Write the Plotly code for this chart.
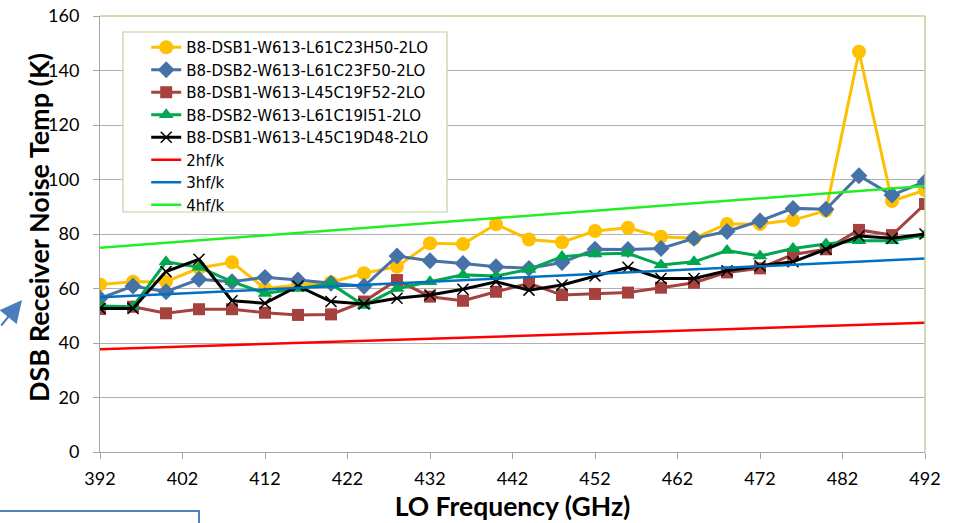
import plotly.graph_objects as go

freq = [392, 396, 400, 404, 408, 412, 416, 420, 424, 428, 432, 436, 440,
        444, 448, 452, 456, 460, 464, 468, 472, 476, 480, 484, 488, 492]

s_h50 = [61.5, 62.5, 62.5, 67.5, 69.6, 60.0, 61.3, 62.3, 65.6, 68.0, 76.6, 76.3, 83.6,
         78.0, 77.0, 81.1, 82.3, 79.0, 78.4, 83.7, 83.7, 85.1, 88.6, 146.9, 92.1, 96.1]
s_f50 = [56.4, 60.9, 58.8, 63.4, 62.5, 64.1, 63.1, 61.9, 60.8, 71.9, 70.2, 69.2, 68.0,
         67.4, 69.5, 74.4, 74.3, 74.7, 78.4, 80.9, 84.8, 89.4, 89.1, 101.4, 94.3, 99.2]
s_f52 = [52.5, 53.3, 50.9, 52.4, 52.4, 51.1, 50.3, 50.5, 55.2, 63.1, 57.0, 55.5, 58.8,
         61.9, 57.6, 58.0, 58.5, 60.3, 62.1, 65.9, 67.4, 72.5, 74.4, 81.5, 79.6, 91.0]
s_i51 = [53.6, 53.3, 69.8, 67.8, 62.5, 58.2, 60.0, 61.7, 53.8, 60.0, 62.5, 65.0, 64.6,
         67.0, 71.7, 72.7, 72.9, 68.6, 69.8, 73.9, 71.9, 74.7, 76.3, 77.5, 77.5, 79.6]
s_d48 = [52.7, 52.7, 66.2, 70.7, 55.5, 54.6, 60.9, 55.2, 54.3, 56.4, 57.6, 59.7, 62.5,
         59.4, 61.3, 64.6, 67.8, 63.7, 63.7, 66.5, 68.3, 69.8, 74.4, 79.3, 78.4, 80.0]

ref_freq = [392, 492]
hf2 = [37.7, 47.4]
hf3 = [56.8, 71.0]
hf4 = [75.0, 97.6]

names = ["B8-DSB1-W613-L61C23H50-2LO", "B8-DSB2-W613-L61C23F50-2LO",
         "B8-DSB1-W613-L45C19F52-2LO", "B8-DSB2-W613-L61C19I51-2LO",
         "B8-DSB1-W613-L45C19D48-2LO", "2hf/k", "3hf/k", "4hf/k"]

fig = go.Figure()

series = [
    (s_h50, "#FFC000", "circle", 14),
    (s_f50, "#4672A8", "diamond", 13),
    (s_f52, "#A5423F", "square", 12),
    (s_i51, "#00A650", "triangle-up", 13),
    (s_d48, "#000000", "x-thin", 11),
]
for (vals, col, sym, sz), nm in zip(series, names[:5]):
    mk = dict(symbol=sym, size=sz, color=col)
    if sym == "x-thin":
        mk["line"] = dict(color=col, width=1.5)
    fig.add_trace(go.Scatter(x=freq, y=vals, name=nm, mode="lines+markers",
                             line=dict(color=col, width=3), marker=mk))

for vals, col, nm in [(hf2, "#FF0000", names[5]), (hf3, "#0070C0", names[6]),
                      (hf4, "#22EE22", names[7])]:
    fig.add_trace(go.Scatter(x=ref_freq, y=vals, name=nm, mode="lines",
                             line=dict(color=col, width=2.5)))

font_main = "Lato, 'Open Sans', sans-serif"
PH = 436.0

fig.update_layout(
    width=961, height=523,
    margin=dict(l=100, r=36, t=16, b=71, autoexpand=False),
    paper_bgcolor="white", plot_bgcolor="white",
    font=dict(family=font_main, color="black"),
    showlegend=True,
    legend=dict(x=0.056, y=(452 - 31) / PH, xanchor="left", yanchor="top",
                bgcolor="rgba(0,0,0,0)", borderwidth=0,
                font=dict(size=15, color="black", family="'DejaVu Sans', sans-serif"),
                tracegroupgap=0, itemwidth=30),
    xaxis=dict(range=[392, 492], tick0=392, dtick=10, showgrid=False,
               showline=True, linecolor="#a6a6a6", linewidth=1,
               ticks="outside", ticklen=6, tickcolor="#a6a6a6",
               tickfont=dict(size=18), zeroline=False, automargin=False,
               ticklabelstandoff=4,
               title=dict(text="<b>LO Frequency (GHz)</b>", font=dict(size=26.5), standoff=9)),
    yaxis=dict(range=[0, 160], dtick=20, showgrid=True, gridcolor="#b0b0b0",
               gridwidth=1, showline=True, linecolor="#a6a6a6", linewidth=1,
               ticks="outside", ticklen=6, tickcolor="#a6a6a6",
               tickfont=dict(size=18), zeroline=False, ticklabelstandoff=10,
               automargin=False),
    shapes=[
        dict(type="line", xref="paper", yref="paper", x0=0, x1=1, y0=1, y1=1,
             line=dict(color="#BFD29A", width=1.5), layer="above"),
        dict(type="line", xref="paper", yref="paper", x0=1, x1=1, y0=0, y1=1,
             line=dict(color="#BFD29A", width=1.5), layer="above"),
        dict(type="rect", xref="paper", yref="paper",
             x0=(123 - 100) / 825, x1=(447 - 100) / 825,
             y0=(452 - 212) / PH, y1=(452 - 32) / PH,
             line=dict(color="#BFD29A", width=1.2), fillcolor="white", layer="above"),
        dict(type="rect", xref="paper", yref="paper",
             x0=-0.13, x1=(199 - 100) / 825,
             y0=-0.2, y1=(452 - 511) / PH,
             line=dict(color="#4F81BD", width=2)),
    ],
    annotations=[
        dict(xref="paper", yref="paper", x=(38 - 100) / 825, y=(452 - 228) / PH,
             xanchor="center", yanchor="middle", textangle=-90, showarrow=False,
             text="<b>DSB Receiver Noise Temp (K)</b>",
             font=dict(size=27, family=font_main, color="black")),
        dict(xref="paper", yref="paper", x=(22 - 100) / 825, y=(452 - 300) / PH,
             text="", showarrow=True, ax=-30, ay=27, arrowhead=2, arrowsize=2.2,
             arrowwidth=2, arrowcolor="#4A7EBB"),
    ],
)

fig.write_html("out.html")
